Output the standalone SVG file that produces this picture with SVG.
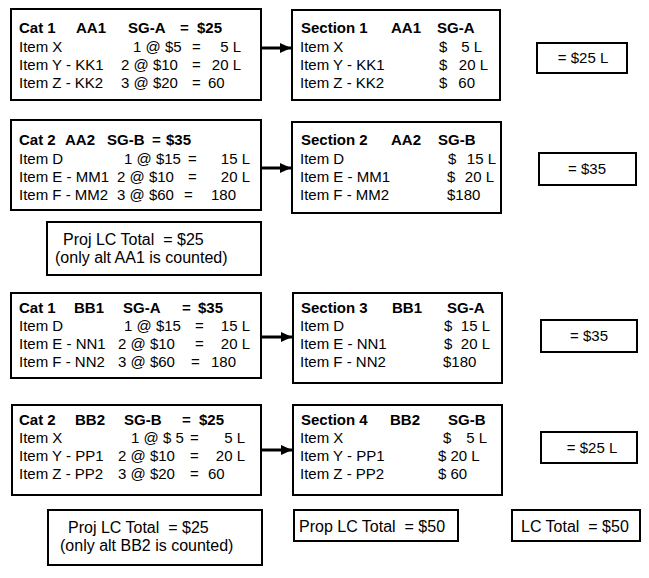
<svg xmlns="http://www.w3.org/2000/svg" width="649" height="578" viewBox="0 0 649 578">
<defs>
<marker id="ah" markerWidth="12" markerHeight="12" refX="11" refY="6" orient="auto" markerUnits="userSpaceOnUse">
<path d="M0,1 L11,6 L0,11 Z" fill="#000"/>
</marker>
</defs>
<style>
.box{fill:#fff;stroke:#000;stroke-width:2}
text{font-family:"Liberation Sans",Arial,sans-serif;font-size:15px;fill:#000}
.b{font-weight:bold}
.big{font-size:16px}
.conn{stroke:#000;stroke-width:3;fill:none}
</style>
<rect width="649" height="578" fill="#fff"/>
<g id="connectors">
<line class="conn" x1="262" y1="48" x2="291" y2="48" marker-end="url(#ah)"/>
<line class="conn" x1="262" y1="168" x2="291" y2="168" marker-end="url(#ah)"/>
<line class="conn" x1="262" y1="337" x2="292" y2="337" marker-end="url(#ah)"/>
<line class="conn" x1="262" y1="450" x2="292" y2="450" marker-end="url(#ah)"/>
</g>
<g id="cat1-aa1">
<rect class="box" x="11" y="9" width="250" height="91"/>
<text class="b" y="33"><tspan x="19">Cat 1</tspan><tspan x="76">AA1</tspan><tspan x="128">SG-A</tspan><tspan x="180">=</tspan><tspan x="197">$25</tspan></text>
<text y="52"><tspan x="19">Item X</tspan><tspan x="133">1 @ $5</tspan><tspan x="192">=</tspan><tspan x="241" text-anchor="end">5 L</tspan></text>
<text y="70"><tspan x="19">Item Y - KK1</tspan><tspan x="121">2 @ $10</tspan><tspan x="192">=</tspan><tspan x="241" text-anchor="end">20 L</tspan></text>
<text y="88"><tspan x="19">Item Z - KK2</tspan><tspan x="121">3 @ $20</tspan><tspan x="192">=</tspan><tspan x="208">60</tspan></text>
</g>
<g id="section1">
<rect class="box" x="292" y="10" width="208" height="90"/>
<text class="b" y="33"><tspan x="301">Section 1</tspan><tspan x="391">AA1</tspan><tspan x="437">SG-A</tspan></text>
<text y="52"><tspan x="300">Item X</tspan><tspan x="439">$</tspan><tspan x="482" text-anchor="end">5 L</tspan></text>
<text y="70"><tspan x="300">Item Y - KK1</tspan><tspan x="439">$</tspan><tspan x="488" text-anchor="end">20 L</tspan></text>
<text y="88"><tspan x="300">Item Z - KK2</tspan><tspan x="439">$</tspan><tspan x="475" text-anchor="end">60</tspan></text>
</g>
<g id="total1">
<rect class="box" x="537" y="43" width="90" height="30"/>
<text x="583" y="63" text-anchor="middle">= $25 L</text>
</g>
<g id="cat2-aa2">
<rect class="box" x="11" y="120" width="250" height="90"/>
<text class="b" y="145"><tspan x="19">Cat 2</tspan><tspan x="65">AA2</tspan><tspan x="107">SG-B</tspan><tspan x="152">=</tspan><tspan x="166">$35</tspan></text>
<text y="164"><tspan x="19">Item D</tspan><tspan x="124">1 @ $15</tspan><tspan x="188">=</tspan><tspan x="250" text-anchor="end">15 L</tspan></text>
<text y="182"><tspan x="19">Item E - MM1</tspan><tspan x="117">2 @ $10</tspan><tspan x="188">=</tspan><tspan x="250" text-anchor="end">20 L</tspan></text>
<text y="200"><tspan x="19">Item F - MM2</tspan><tspan x="117">3 @ $60</tspan><tspan x="184">=</tspan><tspan x="236" text-anchor="end">180</tspan></text>
</g>
<g id="section2">
<rect class="box" x="292" y="122" width="209" height="91"/>
<text class="b" y="145"><tspan x="301">Section 2</tspan><tspan x="391">AA2</tspan><tspan x="438">SG-B</tspan></text>
<text y="164"><tspan x="300">Item D</tspan><tspan x="448">$</tspan><tspan x="496" text-anchor="end">15 L</tspan></text>
<text y="182"><tspan x="300">Item E - MM1</tspan><tspan x="447">$</tspan><tspan x="494" text-anchor="end">20 L</tspan></text>
<text y="200"><tspan x="300">Item F - MM2</tspan><tspan x="447">$180</tspan></text>
</g>
<g id="total2">
<rect class="box" x="539" y="153" width="97" height="32"/>
<text x="587" y="174" text-anchor="middle">= $35</text>
</g>
<g id="proj1">
<rect class="box" x="47" y="222" width="214" height="53"/>
<text class="big" x="63" y="245" xml:space="preserve">Proj LC Total  = $25</text>
<text class="big" x="55" y="263">(only alt AA1 is counted)</text>
</g>
<g id="cat1-bb1">
<rect class="box" x="11" y="293" width="250" height="85"/>
<text class="b" y="313"><tspan x="19">Cat 1</tspan><tspan x="74">BB1</tspan><tspan x="123">SG-A</tspan><tspan x="182">=</tspan><tspan x="198">$35</tspan></text>
<text y="331"><tspan x="19">Item D</tspan><tspan x="124">1 @ $15</tspan><tspan x="195">=</tspan><tspan x="250" text-anchor="end">15 L</tspan></text>
<text y="349"><tspan x="19">Item E - NN1</tspan><tspan x="118">2 @ $10</tspan><tspan x="195">=</tspan><tspan x="250" text-anchor="end">20 L</tspan></text>
<text y="367"><tspan x="19">Item F - NN2</tspan><tspan x="118">3 @ $60</tspan><tspan x="191">=</tspan><tspan x="236" text-anchor="end">180</tspan></text>
</g>
<g id="section3">
<rect class="box" x="293" y="293" width="209" height="90"/>
<text class="b" y="313"><tspan x="301">Section 3</tspan><tspan x="392">BB1</tspan><tspan x="447">SG-A</tspan></text>
<text y="331"><tspan x="300">Item D</tspan><tspan x="444">$</tspan><tspan x="490" text-anchor="end">15 L</tspan></text>
<text y="349"><tspan x="300">Item E - NN1</tspan><tspan x="444">$</tspan><tspan x="490" text-anchor="end">20 L</tspan></text>
<text y="367"><tspan x="300">Item F - NN2</tspan><tspan x="443">$180</tspan></text>
</g>
<g id="total3">
<rect class="box" x="541" y="320" width="96" height="32"/>
<text x="589" y="341" text-anchor="middle">= $35</text>
</g>
<g id="cat2-bb2">
<rect class="box" x="12" y="405" width="249" height="90"/>
<text class="b" y="425"><tspan x="19">Cat 2</tspan><tspan x="75">BB2</tspan><tspan x="124">SG-B</tspan><tspan x="182">=</tspan><tspan x="199">$25</tspan></text>
<text y="443"><tspan x="19">Item X</tspan><tspan x="131">1 @ $ 5</tspan><tspan x="190">=</tspan><tspan x="245" text-anchor="end">5 L</tspan></text>
<text y="461"><tspan x="19">Item Y - PP1</tspan><tspan x="118">2 @ $10</tspan><tspan x="190">=</tspan><tspan x="245" text-anchor="end">20 L</tspan></text>
<text y="479"><tspan x="19">Item Z - PP2</tspan><tspan x="118">3 @ $20</tspan><tspan x="190">=</tspan><tspan x="208">60</tspan></text>
</g>
<g id="section4">
<rect class="box" x="293" y="405" width="209" height="90"/>
<text class="b" y="425"><tspan x="301">Section 4</tspan><tspan x="390">BB2</tspan><tspan x="448">SG-B</tspan></text>
<text y="443"><tspan x="300">Item X</tspan><tspan x="443">$</tspan><tspan x="487" text-anchor="end">5 L</tspan></text>
<text y="461"><tspan x="300">Item Y - PP1</tspan><tspan x="438">$ 20 L</tspan></text>
<text y="479"><tspan x="300">Item Z - PP2</tspan><tspan x="438">$ 60</tspan></text>
</g>
<g id="total4">
<rect class="box" x="541" y="432" width="96" height="31"/>
<text x="592" y="453" text-anchor="middle">= $25 L</text>
</g>
<g id="proj2">
<rect class="box" x="48" y="510" width="214" height="55"/>
<text class="big" x="68" y="533" xml:space="preserve">Proj LC Total  = $25</text>
<text class="big" x="60" y="551">(only alt BB2 is counted)</text>
</g>
<g id="prop-total">
<rect class="box" x="294" y="510" width="164" height="31"/>
<text class="big" x="299" y="532" xml:space="preserve">Prop LC Total  = $50</text>
</g>
<g id="lc-total">
<rect class="box" x="512" y="510" width="128" height="31"/>
<text class="big" x="521" y="532" xml:space="preserve">LC Total  = $50</text>
</g>
</svg>
